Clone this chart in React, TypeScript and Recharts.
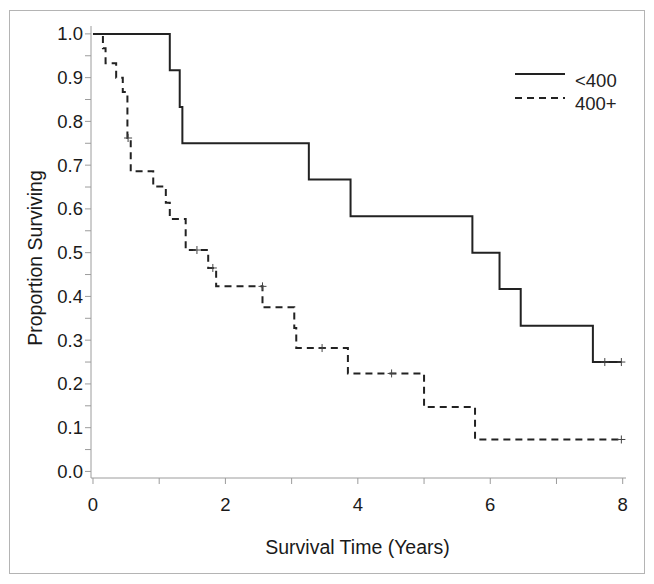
import { LineChart, Line, Scatter, XAxis, YAxis, Legend } from 'recharts';

const FONT = '"Liberation Sans", Arial, Helvetica, sans-serif';
const AXIS_GREY = '#9c9c9c';
const INK = '#222222';

// Kaplan-Meier steps: time (years) -> proportion surviving
const LOW_TIMES = [0, 1.16, 1.31, 1.35, 3.26, 3.89, 5.73, 6.14, 6.46, 7.55, 7.98];
const LOW_SURV = [1, 0.917, 0.833, 0.75, 0.667, 0.583, 0.5, 0.417, 0.333, 0.25, 0.25];
const LOW_CENSOR_TIMES = [7.73, 7.98];
const LOW_CENSOR_SURV = [0.25, 0.25];

const HIGH_TIMES = [0, 0.15, 0.19, 0.35, 0.45, 0.52, 0.57, 0.91, 1.1, 1.16, 1.4, 1.74, 1.86, 2.56, 3.04, 3.07, 3.85, 5.0, 5.77, 7.98];
const HIGH_SURV = [1, 0.967, 0.933, 0.9, 0.867, 0.762, 0.686, 0.651, 0.614, 0.577, 0.506, 0.465, 0.423, 0.375, 0.328, 0.282, 0.224, 0.147, 0.073, 0.073];
const HIGH_CENSOR_TIMES = [0.53, 1.57, 1.81, 2.56, 3.46, 4.51, 7.98];
const HIGH_CENSOR_SURV = [0.762, 0.506, 0.465, 0.423, 0.282, 0.224, 0.073];

const SERIES_NAMES = ['<400', '400+'];
const X_TICKS = [0, 1, 2, 3, 4, 5, 6, 7, 8];
const Y_TICKS = [0, 0.05, 0.1, 0.15, 0.2, 0.25, 0.3, 0.35, 0.4, 0.45, 0.5, 0.55, 0.6, 0.65, 0.7, 0.75, 0.8, 0.85, 0.9, 0.95, 1.0];

const toPoints = (times: number[], surv: number[]) => times.map((t, i) => ({ t, s: surv[i] }));

const lowData = toPoints(LOW_TIMES, LOW_SURV);
const highData = toPoints(HIGH_TIMES, HIGH_SURV);
const lowCensored = toPoints(LOW_CENSOR_TIMES, LOW_CENSOR_SURV);
const highCensored = toPoints(HIGH_CENSOR_TIMES, HIGH_CENSOR_SURV);

const X_DOMAIN = [-0.03, 8.05];
const Y_DOMAIN = [-0.015, 1.018];

// censoring tick
const PlusMark = (props: any) => {
  const { cx, cy } = props;
  return <path d={`M${cx - 4},${cy}H${cx + 4}M${cx},${cy - 4}V${cy + 4}`} stroke="#444" strokeWidth={1} fill="none" />;
};

const renderLegend = () => (
  <svg width={140} height={60} style={{ display: 'block' }}>
    <line x1={5} x2={55} y1={13} y2={13} stroke={INK} strokeWidth={2} />
    <text x={65} y={25.5} fontSize={18.5} fontFamily={FONT} fill={INK}>{SERIES_NAMES[0]}</text>
    <line x1={5} x2={55} y1={37} y2={37} stroke={INK} strokeWidth={2} strokeDasharray="7 5" />
    <text x={65} y={49} fontSize={18.5} fontFamily={FONT} fill={INK}>{SERIES_NAMES[1]}</text>
  </svg>
);

export default function App() {
  const tickStyle = { fill: '#1a1a1a', fontSize: 18.5, fontFamily: FONT };

  return (
    <div
      style={{
        position: 'absolute',
        left: 9,
        top: 10,
        width: 634,
        height: 562,
        border: '1px solid #b4b4b4',
        background: '#fff',
      }}
    >
      <LineChart width={634} height={562} margin={{ top: 15, right: 18, bottom: 0, left: 0 }}>
        <XAxis
          dataKey="t"
          type="number"
          domain={X_DOMAIN}
          allowDataOverflow
          ticks={X_TICKS}
          interval={0}
          tickFormatter={(v: number) => (v % 2 === 0 ? String(v) : '')}
          tick={tickStyle}
          tickSize={6}
          tickMargin={14}
          height={95}
          stroke={AXIS_GREY}
          label={(props: any) => {
            const vb = props.viewBox;
            return (
              <text x={vb.x + vb.width / 2 - 1} y={vb.y + 76} textAnchor="middle" fontSize={19.5} fontFamily={FONT} fill="#1a1a1a">
                Survival Time (Years)
              </text>
            );
          }}
        />
        <XAxis xAxisId="top" orientation="top" type="number" domain={X_DOMAIN} allowDataOverflow tick={false} tickLine={false} height={0} stroke={AXIS_GREY} />
        <YAxis
          type="number"
          domain={Y_DOMAIN}
          allowDataOverflow
          ticks={Y_TICKS}
          interval={0}
          tickFormatter={(v: number) => (Math.round(v * 100) % 10 === 0 ? v.toFixed(1) : '')}
          tick={tickStyle}
          tickSize={6}
          tickMargin={2}
          width={81}
          stroke={AXIS_GREY}
          label={(props: any) => {
            const vb = props.viewBox;
            const cx = vb.x + 31.5;
            const cy = 247;
            return (
              <text x={cx} y={cy} transform={`rotate(-90 ${cx} ${cy})`} textAnchor="middle" fontSize={19.5} fontFamily={FONT} fill="#1a1a1a">
                Proportion Surviving
              </text>
            );
          }}
        />
        <YAxis yAxisId="right" orientation="right" type="number" domain={Y_DOMAIN} allowDataOverflow tick={false} tickLine={false} width={0} stroke={AXIS_GREY} />

        <Legend
          layout="horizontal"
          align="center"
          verticalAlign="middle"
          content={renderLegend}
          wrapperStyle={{ left: 500, top: 50, width: 140, height: 60 }}
        />

        <Line
          data={lowData}
          dataKey="s"
          name={SERIES_NAMES[0]}
          type="stepAfter"
          stroke={INK}
          strokeWidth={2}
          dot={false}
          isAnimationActive={false}
        />
        <Line
          data={highData}
          dataKey="s"
          name={SERIES_NAMES[1]}
          type="stepAfter"
          stroke={INK}
          strokeWidth={2}
          strokeDasharray="7 5"
          dot={false}
          isAnimationActive={false}
        />
        <Scatter data={lowCensored} dataKey="s" shape={PlusMark} legendType="none" isAnimationActive={false} />
        <Scatter data={highCensored} dataKey="s" shape={PlusMark} legendType="none" isAnimationActive={false} />
      </LineChart>
    </div>
  );
}
